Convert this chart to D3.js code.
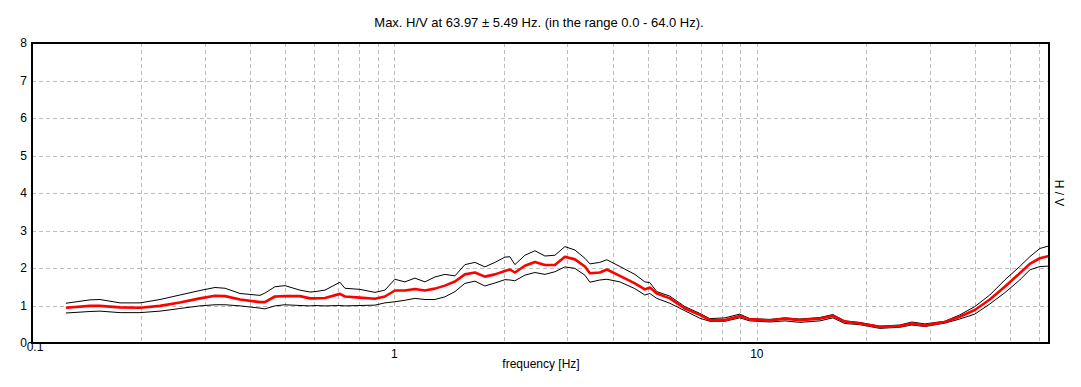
<!DOCTYPE html>
<html>
<head>
<meta charset="utf-8">
<script src="https://cdn.jsdelivr.net/npm/d3@7"></script>
<style>
    body { margin: 0; background: #fff; }
    svg text { font-family: "Liberation Sans", Arial, sans-serif; font-size: 12px; fill: #000; }
</style>
</head>
<body>
<svg id="chart"></svg>
<script>

// Frequencies (Hz)
const freq = [0.124, 0.1445, 0.154, 0.175, 0.1986, 0.2255, 0.256, 0.2907, 0.3198, 0.341,
    0.375, 0.4256, 0.439, 0.468, 0.4988, 0.5487, 0.5846, 0.6035, 0.6434, 0.7073,
    0.7302, 0.803, 0.8835, 0.9414, 1.003, 1.069, 1.139, 1.214, 1.293, 1.378,
    1.469, 1.565, 1.668, 1.777, 1.894, 2.018, 2.083, 2.150, 2.291, 2.441,
    2.602, 2.772, 2.954, 3.148, 3.354, 3.463, 3.689, 3.857, 4.190, 4.607,
    4.909, 5.067, 5.297, 5.754, 6.330, 6.962, 7.418, 8.159, 8.975, 9.566,
    10.86, 11.95, 13.14, 14.92, 16.21, 17.49, 19.23, 21.84, 24.80, 26.77,
    29.07, 33.01, 36.31, 39.94, 43.93, 48.32, 53.15, 56.64, 60.36, 64.0];

// Average H/V (red)
const hvMean = [0.94, 0.99, 0.99, 0.95, 0.94, 0.99, 1.08, 1.19, 1.26, 1.25,
    1.16, 1.09, 1.09, 1.24, 1.25, 1.25, 1.19, 1.19, 1.20, 1.31,
    1.24, 1.21, 1.18, 1.24, 1.40, 1.40, 1.44, 1.40, 1.45, 1.53,
    1.64, 1.83, 1.88, 1.77, 1.83, 1.92, 1.96, 1.88, 2.06, 2.16,
    2.08, 2.08, 2.30, 2.23, 2.04, 1.86, 1.88, 1.96, 1.79, 1.59,
    1.43, 1.48, 1.32, 1.19, 0.92, 0.75, 0.61, 0.61, 0.72, 0.63,
    0.60, 0.65, 0.61, 0.65, 0.72, 0.57, 0.52, 0.43, 0.45, 0.52,
    0.47, 0.56, 0.70, 0.88, 1.16, 1.50, 1.86, 2.11, 2.26, 2.32];

// Upper bound (black)
const hvUpper = [1.06, 1.15, 1.16, 1.07, 1.07, 1.16, 1.28, 1.40, 1.48, 1.46,
    1.32, 1.27, 1.33, 1.50, 1.53, 1.41, 1.36, 1.37, 1.41, 1.62,
    1.46, 1.43, 1.35, 1.41, 1.70, 1.63, 1.73, 1.63, 1.76, 1.83,
    1.79, 2.09, 2.15, 2.03, 2.15, 2.29, 2.30, 2.09, 2.34, 2.46,
    2.32, 2.34, 2.57, 2.48, 2.26, 2.11, 2.15, 2.22, 2.04, 1.83,
    1.63, 1.61, 1.37, 1.25, 0.97, 0.79, 0.65, 0.67, 0.77, 0.65,
    0.63, 0.67, 0.64, 0.68, 0.76, 0.59, 0.55, 0.45, 0.48, 0.56,
    0.51, 0.58, 0.75, 0.97, 1.28, 1.68, 2.04, 2.30, 2.52, 2.59];

// Lower bound (black)
const hvLower = [0.80, 0.84, 0.85, 0.81, 0.81, 0.85, 0.92, 0.99, 1.02, 1.02,
    0.99, 0.93, 0.91, 0.99, 1.02, 1.00, 0.99, 1.00, 0.99, 1.00,
    0.99, 1.00, 1.01, 1.07, 1.10, 1.14, 1.19, 1.16, 1.16, 1.23,
    1.37, 1.59, 1.65, 1.52, 1.60, 1.69, 1.68, 1.66, 1.81, 1.88,
    1.83, 1.90, 2.03, 1.99, 1.81, 1.62, 1.68, 1.70, 1.63, 1.45,
    1.28, 1.32, 1.19, 1.06, 0.86, 0.66, 0.58, 0.58, 0.67, 0.59,
    0.56, 0.59, 0.55, 0.59, 0.67, 0.52, 0.49, 0.39, 0.42, 0.48,
    0.44, 0.53, 0.64, 0.77, 1.04, 1.34, 1.68, 1.95, 2.04, 2.05];

const yTicks = [0, 1, 2, 3, 4, 5, 6, 7, 8];
const xLabels = [0.1, 1, 10];
const xGrid = [0.2, 0.3, 0.4, 0.5, 0.6, 0.7, 0.8, 0.9, 1, 2, 3, 4, 5, 6, 7, 8, 9, 10, 20, 30, 40, 50, 60];

const titleText = "Max. H/V at 63.97 \u00b1 5.49 Hz. (in the range 0.0 - 64.0 Hz).";

const width = 1081, height = 387;
const plot = {left: 32, right: 1049, top: 43, bottom: 343};

const svg = d3.select('#chart')
    .attr('width', width)
    .attr('height', height);

const xScale = d3.scaleLog()
    .domain([0.1, 64])
    .range([plot.left, plot.right]);

const yScale = d3.scaleLinear()
    .domain([0, 8])
    .range([plot.bottom, plot.top]);

// Grid
svg.append('g').selectAll('line')
    .data(xGrid)
    .join('line')
    .attr('x1', d => Math.round(xScale(d)) + 0.5)
    .attr('x2', d => Math.round(xScale(d)) + 0.5)
    .attr('y1', plot.top)
    .attr('y2', plot.bottom)
    .attr('stroke', '#bdbdbd')
    .attr('stroke-dasharray', '4,3');

svg.append('g').selectAll('line')
    .data(yTicks.filter(d => d > 0 && d < 8))
    .join('line')
    .attr('x1', plot.left)
    .attr('x2', plot.right)
    .attr('y1', d => Math.round(yScale(d)) + 0.5)
    .attr('y2', d => Math.round(yScale(d)) + 0.5)
    .attr('stroke', '#bdbdbd')
    .attr('stroke-dasharray', '4,3');

// Curves
const series = [
    {values: hvUpper, color: '#000', w: 1},
    {values: hvLower, color: '#000', w: 1},
    {values: hvMean, color: '#ff0000', w: 2.6}
];

const line = d3.line()
    .x(d => xScale(d[0]))
    .y(d => yScale(d[1]));

series.forEach(s => {
    svg.append('path')
        .datum(freq.map((f, i) => [f, s.values[i]]))
        .attr('d', line)
        .attr('fill', 'none')
        .attr('stroke', s.color)
        .attr('stroke-width', s.w)
        .attr('stroke-linejoin', 'round');
});

// Frame
svg.append('rect')
    .attr('x', plot.left)
    .attr('y', plot.top)
    .attr('width', plot.right - plot.left)
    .attr('height', plot.bottom - plot.top)
    .attr('fill', 'none')
    .attr('stroke', '#000')
    .attr('stroke-width', 2);

// Y labels
svg.append('g').selectAll('text')
    .data(yTicks)
    .join('text')
    .attr('x', 27)
    .attr('y', d => yScale(d))
    .attr('dy', '0.35em')
    .attr('text-anchor', 'end')
    .text(d => d);

// X labels
svg.append('g').selectAll('text')
    .data(xLabels)
    .join('text')
    .attr('x', d => d === 0.1 ? xScale(d) + 3 : xScale(d))
    .attr('y', d => d === 0.1 ? 347 : 354)
    .attr('dy', '0.35em')
    .attr('text-anchor', 'middle')
    .text(d => d);

// Titles
svg.append('text')
    .attr('x', 539)
    .attr('y', 22)
    .attr('dy', '0.35em')
    .attr('text-anchor', 'middle')
    .style('font-size', '13px')
    .text(titleText);

svg.append('text')
    .attr('x', 541)
    .attr('y', 364)
    .attr('dy', '0.35em')
    .attr('text-anchor', 'middle')
    .text('frequency [Hz]');

svg.append('text')
    .attr('transform', 'translate(1059,193) rotate(90)')
    .attr('dy', '0.35em')
    .attr('text-anchor', 'middle')
    .text('H / V');

</script>
</body>
</html>
